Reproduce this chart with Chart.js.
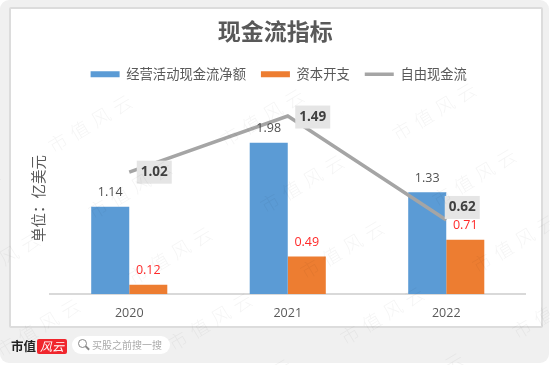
<!DOCTYPE html>
<html><head><meta charset="utf-8">
<script src="https://cdn.jsdelivr.net/npm/chart.js@4"></script>
<style>
html,body{margin:0;padding:0;background:#fff;width:550px;height:365px;overflow:hidden}
#bg{position:absolute;left:0;top:0;width:549px;height:363px;background:#f0f0f0;border-radius:9px}
#card{position:absolute;left:9px;top:7px;width:530px;height:317px;background:#fff;border:2px solid #dcdcdc;border-radius:2px}
canvas{position:absolute;left:0;top:0}
#wm{position:absolute;left:0;top:0;width:550px;height:365px;overflow:hidden;pointer-events:none}
#wm span{position:absolute;font:300 19px "Noto Sans CJK SC";letter-spacing:6px;color:rgba(0,0,0,.045);transform:translate(-50%,-50%) rotate(-31deg);white-space:nowrap}
#brand{position:absolute;left:11px;top:337px;font:bold 12.5px "Noto Sans CJK SC";color:#222;line-height:18px}
#red{position:absolute;left:37px;top:339px;width:30px;height:15px;background:#f0262d;border-radius:2px;color:#fff;font:italic 12px "Noto Sans CJK SC";text-align:center;line-height:14px}
#pill{position:absolute;left:72px;top:336px;width:98px;height:18px;background:#fff;border-radius:9px}
#pill i{position:absolute;left:6px;top:3px;width:7px;height:7px;border:1.5px solid #888;border-radius:50%}
#pill b{position:absolute;left:13px;top:11px;width:5px;height:1.5px;background:#888;transform:rotate(45deg)}
#pill span{position:absolute;left:20px;top:0;font:10px "Noto Sans CJK SC";color:#aaa;line-height:18px;white-space:nowrap}
</style></head>
<body>
<div id="bg"></div><div id="card"></div>
<canvas id="c" width="550" height="365"></canvas>
<div id="wm"></div>
<div id="brand">市值</div><div id="red">风云</div>
<div id="pill"><i></i><b></b><span>买股之前搜一搜</span></div>
<script>
const categories = ["2020","2021","2022"];
const operatingCash = [1.14,1.98,1.33];
const capex = [0.12,0.49,0.71];
const freeCash = [1.02,1.49,0.62];
const seriesNames = ["经营活动现金流净额","资本开支","自由现金流"];
const chartTitle = "现金流指标";
const unitTitle = "单位：亿美元";
const watermarkText = "市值风云";

const FONT = '"Open Sans","Noto Sans CJK SC",sans-serif';
const CJK = '"Noto Sans CJK SC",sans-serif';
const lineLabelOffsets = [[25,0],[25,1],[16,-12.5]];

const wm = document.getElementById('wm');
for (let i=-3;i<=5;i++) for (let j=-2;j<=6;j++){
  const x = 344 + i*172 + j*40, y = 247 - i*6 + j*66;
  if (x<-60||x>610||y<-40||y>410) continue;
  const s = document.createElement('span');
  s.textContent = watermarkText; s.style.left = x+'px'; s.style.top = y+'px';
  wm.appendChild(s);
}

const labelPlugin = {
  id:'labels',
  afterLayout(chart){
    chart.legend.left += 1; chart.legend.right += 1;
    chart.legend.top -= 12; chart.legend.bottom -= 12;
    chart.titleBlock.left -= 2.5; chart.titleBlock.right -= 2.5;
    chart.titleBlock.top -= 12; chart.titleBlock.bottom -= 12;
  },
  afterDatasetsDraw(chart){
    const ctx = chart.ctx;
    ctx.save();
    ctx.textAlign='center'; ctx.textBaseline='middle';
    ctx.font = '12.5px '+FONT;
    chart.getDatasetMeta(0).data.forEach((el,i)=>{
      ctx.fillStyle='#505050';
      ctx.fillText(operatingCash[i].toFixed(2), el.x, el.y-14);
    });
    chart.getDatasetMeta(1).data.forEach((el,i)=>{
      ctx.fillStyle='#ff2a2a';
      ctx.fillText(capex[i].toFixed(2), el.x, el.y-14);
    });
    chart.getDatasetMeta(2).data.forEach((el,i)=>{
      const [dx,dy]=lineLabelOffsets[i];
      const x=el.x+dx, y=el.y+dy;
      ctx.fillStyle='#e5e5e5';
      ctx.fillRect(x-17.5,y-11.5,35,23);
      ctx.fillStyle='#404040';
      ctx.font='bold 13.5px '+FONT;
      ctx.fillText(freeCash[i].toFixed(2), x, y);
    });
    ctx.restore();
  }
};

new Chart(document.getElementById('c'),{
  data:{
    labels:categories,
    datasets:[
      {type:'bar',label:seriesNames[0],data:operatingCash,backgroundColor:'#5b9bd5',yAxisID:'y',order:2,pointStyle:'rect',categoryPercentage:0.48,barPercentage:1},
      {type:'bar',label:seriesNames[1],data:capex,backgroundColor:'#ed7d31',yAxisID:'y',order:2,pointStyle:'rect',categoryPercentage:0.48,barPercentage:1},
      {type:'line',label:seriesNames[2],data:freeCash,borderColor:'#a5a5a5',backgroundColor:'#a5a5a5',borderWidth:3.5,pointRadius:0,tension:0,yAxisID:'y1',order:1,pointStyle:'line',fill:false}
    ]
  },
  options:{
    responsive:false,animation:false,
    layout:{padding:{left:30,right:24.5,top:29,bottom:41}},
    plugins:{
      title:{display:true,text:chartTitle,color:'#595959',font:{family:CJK,size:23,weight:'bold'},padding:{top:0,bottom:8}},
      legend:{position:'top',align:'center',labels:{usePointStyle:true,pointStyleWidth:29,boxHeight:6,color:'#595959',font:{family:CJK,size:13.3},padding:15,sort:(a,b)=>a.datasetIndex-b.datasetIndex}},
      tooltip:{enabled:false}
    },
    scales:{
      x:{grid:{display:false},border:{color:'#d9d9d9',width:2},ticks:{color:'#595959',font:{family:FONT,size:12.5},padding:3.5,maxRotation:0}},
      y:{position:'left',min:0,max:2.5,grid:{display:false},border:{display:false},ticks:{display:false},
         title:{display:true,text:unitTitle,color:'#595959',font:{family:CJK,size:14.5},padding:0},
         afterFit(s){s.width=20;}},
      y1:{position:'right',min:0,max:1.6,display:false}
    }
  },
  plugins:[labelPlugin]
});
</script>
</body></html>
